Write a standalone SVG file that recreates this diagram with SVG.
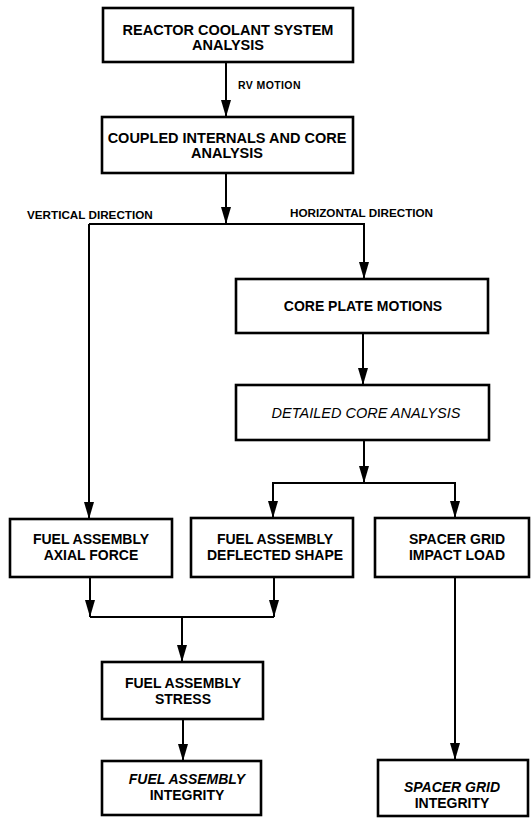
<svg xmlns="http://www.w3.org/2000/svg" width="531" height="818" viewBox="0 0 531 818">
<style>
.box{fill:#fff;stroke:#000;stroke-width:2.6}
.t{font-family:"Liberation Sans",Arial,sans-serif;font-size:14px;font-weight:bold;text-anchor:middle;fill:#000}
.big{font-size:14.5px}
.it{font-style:italic}
.reg{font-weight:normal}
.lbl{font-family:"Liberation Sans",Arial,sans-serif;font-weight:bold;fill:#000}
.c{fill:none;stroke:#000;stroke-width:2}
</style>
<defs>
<marker id="ah" markerUnits="userSpaceOnUse" markerWidth="17" markerHeight="10" viewBox="0 0 17 10" refX="17" refY="5" orient="auto">
<path d="M0,0 L17,5 L0,10 z" fill="#000"/>
</marker>
</defs>
<rect width="531" height="818" fill="#fff"/>
<g id="connectors">
<path class="c" d="M226,62 V117" marker-end="url(#ah)"/>
<path class="c" d="M226,174 V224" marker-end="url(#ah)"/>
<path class="c" d="M89,224 H364 V279" marker-end="url(#ah)"/>
<path class="c" d="M89,224 V519" marker-end="url(#ah)"/>
<path class="c" d="M363,333 V385" marker-end="url(#ah)"/>
<path class="c" d="M364,440 V483" marker-end="url(#ah)"/>
<path class="c" d="M364,483 H273 V518" marker-end="url(#ah)"/>
<path class="c" d="M364,483 H455 V518" marker-end="url(#ah)"/>
<path class="c" d="M90,577 V617" marker-end="url(#ah)"/>
<path class="c" d="M274,577 V617" marker-end="url(#ah)"/>
<path class="c" d="M90,617 H274"/>
<path class="c" d="M182,617 V662" marker-end="url(#ah)"/>
<path class="c" d="M183,719 V761" marker-end="url(#ah)"/>
<path class="c" d="M455,577 V760" marker-end="url(#ah)"/>
<text class="lbl" x="238" y="89" font-size="10.5" letter-spacing="0.4">RV MOTION</text>
<text class="lbl" x="27" y="219" font-size="11.7">VERTICAL DIRECTION</text>
<text class="lbl" x="290" y="217" font-size="11.7">HORIZONTAL DIRECTION</text>
</g>
<g id="rcs">
<rect class="box" x="103" y="8" width="250" height="54"/>
<text class="t big" x="228" y="35">REACTOR COOLANT SYSTEM</text>
<text class="t big" x="228" y="50">ANALYSIS</text>
</g>
<g id="coupled">
<rect class="box" x="102" y="117" width="251" height="56"/>
<text class="t big" x="227" y="143">COUPLED INTERNALS AND CORE</text>
<text class="t big" x="227" y="158">ANALYSIS</text>
</g>
<g id="coreplate">
<rect class="box" x="236" y="279" width="252" height="54"/>
<text class="t" x="363" y="311">CORE PLATE MOTIONS</text>
</g>
<g id="detailed">
<rect class="box" x="236" y="385" width="253" height="55"/>
<text class="t it reg big" x="366" y="418">DETAILED CORE ANALYSIS</text>
</g>
<g id="axial">
<rect class="box" x="10" y="519" width="162" height="58"/>
<text class="t" x="91" y="544">FUEL ASSEMBLY</text>
<text class="t" x="91" y="560">AXIAL FORCE</text>
</g>
<g id="deflected">
<rect class="box" x="191" y="518" width="162" height="59"/>
<text class="t" x="275" y="544">FUEL ASSEMBLY</text>
<text class="t" x="275" y="560">DEFLECTED SHAPE</text>
</g>
<g id="impact">
<rect class="box" x="375" y="518" width="154" height="59"/>
<text class="t" x="457" y="544">SPACER GRID</text>
<text class="t" x="457" y="560">IMPACT LOAD</text>
</g>
<g id="stress">
<rect class="box" x="102" y="662" width="161" height="57"/>
<text class="t" x="183" y="688">FUEL ASSEMBLY</text>
<text class="t" x="183" y="704">STRESS</text>
</g>
<g id="fa-integrity">
<rect class="box" x="102" y="761" width="159" height="54"/>
<text class="t it" x="187" y="784">FUEL ASSEMBLY</text>
<text class="t" x="187" y="800">INTEGRITY</text>
</g>
<g id="sg-integrity">
<rect class="box" x="378" y="760" width="150" height="56"/>
<text class="t it" x="452" y="792">SPACER GRID</text>
<text class="t" x="452" y="808">INTEGRITY</text>
</g>
</svg>
